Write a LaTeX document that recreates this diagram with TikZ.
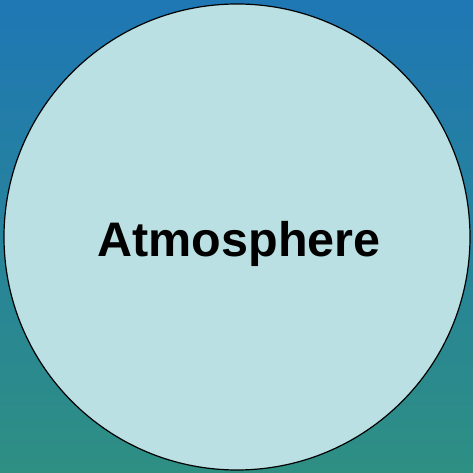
\documentclass[tikz,border=0pt]{standalone}
\usepackage{fontspec}
\setmainfont{Liberation Sans}
\usetikzlibrary{positioning}
\definecolor{skytop}{HTML}{1F77B4}
\definecolor{skybottom}{HTML}{2E8F83}
\definecolor{airfill}{HTML}{BAE0E3}

\begin{document}
\begin{tikzpicture}[x=1pt,y=1pt,
    layer/.style={circle,draw=black,line width=1.2pt,fill=airfill,minimum size=466pt,inner sep=0pt}]
        \shade[top color=skytop,bottom color=skybottom] (0,0) rectangle (473,473);
        \useasboundingbox (0,0) rectangle (473,473);
        \node[layer] (atmo) at (237,236) {};
        \node[font=\fontsize{48.5}{56}\selectfont\bfseries] (label) at (239,229) {Atmosphere};
      \end{tikzpicture}
\end{document}
